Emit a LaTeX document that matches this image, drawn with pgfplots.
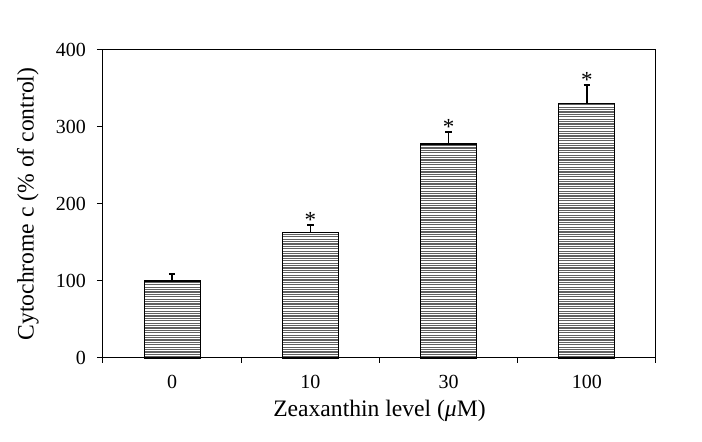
\documentclass[border=0pt]{standalone}
\usepackage{fontspec}
\setmainfont{Liberation Serif}
\usepackage{pgfplots}
\pgfplotsset{compat=1.18}
\usetikzlibrary{patterns}

% dense horizontal hatching like the original bars
\pgfdeclarepatternformonly{densehlines}{\pgfpoint{-1pt}{-1pt}}{\pgfpoint{1pt}{1pt}}{\pgfpoint{1pt}{1.2pt}}{%
  \pgfsetlinewidth{0.55pt}%
  \pgfpathmoveto{\pgfpoint{-0.5pt}{0.6pt}}%
  \pgfpathlineto{\pgfpoint{1.5pt}{0.6pt}}%
  \pgfusepath{stroke}}

\begin{document}
\fontsize{10}{12}\selectfont
\begin{tikzpicture}
\useasboundingbox (-51.5pt,-42pt) rectangle (299.5pt,179pt);
\begin{axis}[
    at={(0,0)}, anchor=south west,
    scale only axis,
    width=276.5pt, height=154pt,
    xmin=-0.5, xmax=3.5,
    ymin=0, ymax=400,
    xtick={0,1,2,3},
    xticklabels={0,10,30,100},
    minor xtick={-0.5,0.5,1.5,2.5,3.5},
    major x tick style={draw=none},
    ytick={0,100,200,300,400},
    xtick pos=bottom, ytick pos=left,
    tick align=outside,
    major tick length=3pt,
    minor tick length=2.5pt,
    axis line style={line width=0.5pt},
    tick style={line width=0.5pt, black},
    /pgf/number format/assume math mode=true,
    tick label style={font=\fontsize{10}{12}\selectfont},
    yticklabel style={xshift=-2pt},
    xticklabel style={yshift=-2pt},
    xlabel={Zeaxanthin level (\textit{μ}M)},
    ylabel={Cytochrome c (\% of control)},
    label style={font=\fontsize{11.8}{14}\selectfont},
    xlabel style={at={(axis description cs:0.5,-0.172)}, anchor=center},
    ylabel style={at={(axis description cs:-0.136,0.5)}, anchor=center},
    clip=false,
]
\addplot[
    ybar, bar width=28pt, bar shift=0pt,
    draw=black, line width=0.6pt,
    pattern=densehlines, pattern color=black!62,
    error bars/.cd,
      y dir=plus, y explicit,
      error bar style={line width=0.7pt, black},
      error mark options={rotate=90, mark size=1.6pt, line width=0.9pt, black},
] coordinates {
    (0,100) +- (0,9)
    (1,163) +- (0,10)
    (2,278) +- (0,15)
    (3,330) +- (0,25)
};
% significance asterisks, placed just above the error caps
\addplot[
    only marks, mark=none,
    nodes near coords={*},
    every node near coord/.append style={anchor=south, inner sep=0pt, font=\fontsize{11.5}{13}\selectfont, yshift=-1.5pt},
] coordinates {
    (1,173)
    (2,293)
    (3,355)
};
\end{axis}
\end{tikzpicture}
\end{document}
